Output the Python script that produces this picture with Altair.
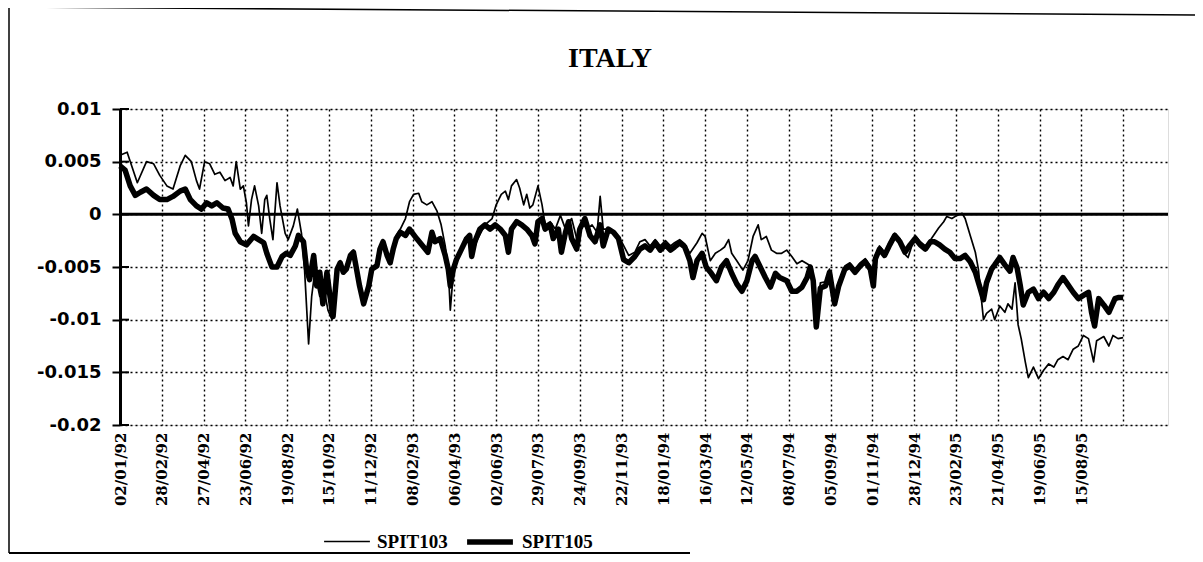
import altair as alt
import pandas as pd

# ---------------- data ----------------
# x = trading-day index (41 trading days between labelled gridlines)
x_tick_values = [0, 41, 82, 123, 164, 205, 246, 287, 328, 369, 410, 451, 492,
                 533, 574, 615, 656, 697, 738, 779, 820, 861, 902, 943, 984]
x_tick_labels = ['02/01/92', '28/02/92', '27/04/92', '23/06/92', '19/08/92', '15/10/92',
                 '11/12/92', '08/02/93', '06/04/93', '02/06/93', '29/07/93', '24/09/93',
                 '22/11/93', '18/01/94', '16/03/94', '12/05/94', '08/07/94', '05/09/94',
                 '01/11/94', '28/12/94', '23/02/95', '21/04/95', '19/06/95', '15/08/95', '']
x_domain = [0, 1028]

y_tick_values = [-0.02, -0.015, -0.01, -0.005, 0, 0.005, 0.01]
y_tick_labels = ['-0.02', '-0.015', '-0.01', '-0.005', '0', '0.005', '0.01']
y_domain = [-0.02, 0.01]

chart_title = 'ITALY'
series_names = ['SPIT103', 'SPIT105']

spit105_idx = [0, 5, 10, 15, 20, 26, 33, 39, 46, 52, 59, 64, 69, 75, 80, 85, 90, 95, 101, 106,
               110, 113, 118, 124, 131, 136, 141, 144, 149, 154, 159, 163, 167, 172, 175, 180,
               183, 186, 190, 193, 196, 199, 203, 206, 209, 213, 216, 219, 222, 226, 229, 232,
               235, 239, 244, 247, 252, 255, 258, 262, 265, 268, 271, 275, 280, 284, 291, 297,
               302, 306, 309, 314, 319, 322, 324, 327, 330, 335, 340, 343, 345, 348, 353, 358,
               363, 368, 373, 378, 381, 384, 389, 394, 399, 404, 407, 410, 414, 417, 422, 425,
               430, 433, 437, 440, 443, 448, 451, 456, 461, 466, 471, 474, 479, 484, 489, 494,
               499, 505, 510, 515, 520, 525, 530, 535, 540, 544, 549, 554, 559, 562, 566, 571,
               575, 580, 585, 590, 595, 600, 605, 610, 615, 620, 623, 628, 633, 638, 643, 647,
               654, 659, 664, 669, 674, 677, 680, 683, 687, 692, 696, 701, 705, 711, 716, 721,
               726, 731, 736, 739, 741, 745, 750, 755, 760, 765, 770, 775, 780, 785, 790, 795,
               799, 804, 809, 814, 819, 824, 829, 834, 839, 844, 847, 850, 855, 858, 863, 868,
               873, 876, 880, 883, 886, 891, 896, 901, 906, 911, 916, 920, 925, 930, 935, 940,
               945, 950, 953, 956, 960, 965, 970, 976, 979, 984]
spit105_val = [0.0046, 0.0042, 0.0027, 0.0018, 0.0021, 0.0024, 0.0018, 0.0014, 0.0014, 0.0017,
               0.0022, 0.0024, 0.0014, 0.0008, 0.0005, 0.0011, 0.0008, 0.0011, 0.0006, 0.0005,
               -0.0005, -0.0018, -0.0026, -0.0029, -0.0021, -0.0024, -0.0027, -0.0037, -0.0050, -0.0050,
               -0.0040, -0.0037, -0.0039, -0.0030, -0.0020, -0.0026, -0.0052, -0.0062, -0.0039, -0.0068,
               -0.0055, -0.0085, -0.0055, -0.0078, -0.0097, -0.0052, -0.0046, -0.0055, -0.0052, -0.0039,
               -0.0036, -0.0052, -0.0068, -0.0085, -0.0068, -0.0052, -0.0049, -0.0033, -0.0026, -0.0039,
               -0.0046, -0.0033, -0.0023, -0.0017, -0.0020, -0.0014, -0.0023, -0.0030, -0.0036, -0.0017,
               -0.0026, -0.0023, -0.0039, -0.0052, -0.0068, -0.0052, -0.0043, -0.0033, -0.0023, -0.0020,
               -0.0040, -0.0026, -0.0014, -0.0010, -0.0014, -0.0010, -0.0014, -0.0020, -0.0036, -0.0014,
               -0.0007, -0.0010, -0.0014, -0.0020, -0.0028, -0.0007, -0.0004, -0.0014, -0.0010, -0.0023,
               -0.0014, -0.0036, -0.0017, -0.0007, -0.0023, -0.0033, -0.0014, -0.0004, -0.0020, -0.0026,
               -0.0010, -0.0030, -0.0014, -0.0017, -0.0023, -0.0043, -0.0046, -0.0040, -0.0033, -0.0030,
               -0.0034, -0.0027, -0.0034, -0.0029, -0.0034, -0.0031, -0.0027, -0.0031, -0.0044, -0.0060,
               -0.0044, -0.0037, -0.0050, -0.0056, -0.0063, -0.0050, -0.0044, -0.0056, -0.0066, -0.0073,
               -0.0063, -0.0044, -0.0040, -0.0050, -0.0060, -0.0069, -0.0056, -0.0060, -0.0063, -0.0073,
               -0.0073, -0.0069, -0.0060, -0.0050, -0.0063, -0.0107, -0.0070, -0.0068, -0.0055, -0.0085,
               -0.0068, -0.0052, -0.0049, -0.0055, -0.0049, -0.0045, -0.0052, -0.0068, -0.0042, -0.0033,
               -0.0039, -0.0029, -0.0020, -0.0026, -0.0036, -0.0029, -0.0023, -0.0029, -0.0033, -0.0026,
               -0.0026, -0.0029, -0.0033, -0.0036, -0.0042, -0.0042, -0.0039, -0.0045, -0.0055, -0.0071,
               -0.0081, -0.0065, -0.0052, -0.0048, -0.0041, -0.0048, -0.0054, -0.0041, -0.0051, -0.0067,
               -0.0086, -0.0074, -0.0071, -0.0080, -0.0074, -0.0080, -0.0074, -0.0067, -0.0060, -0.0067,
               -0.0074, -0.0080, -0.0077, -0.0074, -0.0093, -0.0106, -0.0080, -0.0086, -0.0093, -0.0080,
               -0.0079, -0.0079]

spit103_idx = [0, 7, 17, 26, 33, 39, 46, 52, 59, 64, 70, 75, 78, 83, 88, 93, 98, 103, 108, 111,
               114, 118, 121, 124, 126, 129, 132, 136, 139, 142, 144, 147, 150, 154, 157, 162, 165,
               170, 174, 178, 181, 185, 188, 191, 196, 199, 204, 208, 213, 216, 219, 222, 226, 229,
               232, 235, 239, 244, 247, 252, 255, 258, 262, 265, 268, 271, 275, 280, 284, 288, 293,
               296, 301, 306, 311, 315, 319, 322, 324, 327, 330, 337, 343, 345, 351, 358, 365, 369,
               374, 378, 381, 384, 389, 392, 396, 399, 402, 405, 410, 414, 417, 422, 427, 432, 437,
               443, 448, 453, 458, 463, 468, 471, 474, 479, 486, 492, 499, 505, 510, 515, 520, 525,
               530, 535, 540, 544, 549, 554, 559, 566, 571, 574, 579, 584, 589, 593, 597, 600, 605,
               611, 616, 621, 626, 629, 634, 639, 644, 649, 654, 659, 664, 669, 674, 679, 683, 687,
               692, 696, 701, 705, 711, 716, 721, 726, 731, 736, 739, 741, 745, 750, 755, 760, 765,
               770, 773, 780, 785, 790, 796, 803, 808, 811, 816, 821, 826, 829, 834, 839, 842, 845,
               847, 850, 855, 858, 863, 868, 871, 875, 878, 881, 884, 888, 891, 896, 901, 906, 911,
               916, 920, 925, 930, 935, 940, 945, 950, 953, 955, 958, 965, 970, 974, 979, 984]
spit103_val = [0.0056, 0.0059, 0.0030, 0.0050, 0.0048, 0.0037, 0.0027, 0.0024, 0.0046, 0.0056,
               0.0050, 0.0032, 0.0024, 0.0050, 0.0048, 0.0038, 0.0040, 0.0032, 0.0035, 0.0027,
               0.0050, 0.0024, 0.0027, 0.0011, -0.0011, 0.0014, 0.0027, 0.0008, -0.0018, 0.0014,
               0.0018, -0.0005, -0.0024, 0.0030, 0.0008, -0.0018, -0.0024, -0.0011, 0.0005, -0.0018,
               -0.0052, -0.0123, -0.0078, -0.0055, -0.0078, -0.0065, -0.0091, -0.0100, -0.0055, -0.0044,
               -0.0053, -0.0050, -0.0037, -0.0034, -0.0050, -0.0066, -0.0082, -0.0066, -0.0050, -0.0047,
               -0.0031, -0.0024, -0.0037, -0.0042, -0.0030, -0.0020, -0.0014, -0.0004, 0.0012, 0.0019,
               0.0020, 0.0012, 0.0009, 0.0012, 0.0003, -0.0010, -0.0030, -0.0052, -0.0091, -0.0055,
               -0.0046, -0.0030, -0.0020, -0.0039, -0.0023, -0.0010, -0.0004, 0.0009, 0.0019, 0.0022,
               0.0014, 0.0027, 0.0033, 0.0025, 0.0009, 0.0019, 0.0006, 0.0009, 0.0027, 0.0009,
               -0.0010, -0.0007, -0.0014, -0.0001, -0.0014, -0.0004, -0.0023, -0.0007, -0.0014, -0.0010,
               -0.0017, 0.0017, -0.0014, -0.0014, -0.0017, -0.0026, -0.0039, -0.0036, -0.0026, -0.0024,
               -0.0030, -0.0024, -0.0030, -0.0025, -0.0030, -0.0027, -0.0024, -0.0028, -0.0037, -0.0027,
               -0.0018, -0.0021, -0.0044, -0.0037, -0.0034, -0.0031, -0.0024, -0.0037, -0.0044, -0.0053,
               -0.0044, -0.0021, -0.0010, -0.0024, -0.0021, -0.0034, -0.0037, -0.0037, -0.0034, -0.0040,
               -0.0047, -0.0044, -0.0047, -0.0050, -0.0100, -0.0065, -0.0064, -0.0052, -0.0080, -0.0064,
               -0.0049, -0.0046, -0.0052, -0.0046, -0.0042, -0.0049, -0.0064, -0.0039, -0.0030, -0.0036,
               -0.0026, -0.0018, -0.0023, -0.0038, -0.0041, -0.0020, -0.0026, -0.0030, -0.0023, -0.0013,
               -0.0007, -0.0002, -0.0004, -0.0001, 0.0001, -0.0004, -0.0020, -0.0036, -0.0052, -0.0081,
               -0.0100, -0.0094, -0.0090, -0.0100, -0.0087, -0.0093, -0.0085, -0.0090, -0.0065, -0.0105,
               -0.0118, -0.0140, -0.0155, -0.0145, -0.0156, -0.0148, -0.0142, -0.0145, -0.0138, -0.0135,
               -0.0138, -0.0128, -0.0125, -0.0115, -0.0118, -0.0131, -0.0140, -0.0120, -0.0116, -0.0125,
               -0.0115, -0.0118, -0.0117]

df = pd.concat([
    pd.DataFrame({'idx': spit103_idx, 'value': spit103_val, 'series': series_names[0]}),
    pd.DataFrame({'idx': spit105_idx, 'value': spit105_val, 'series': series_names[1]}),
], ignore_index=True)

# ---------------- chart ----------------
x_label_expr = "[" + ",".join("'%s'" % s for s in x_tick_labels) + "][indexof([" + \
    ",".join(str(v) for v in x_tick_values) + "], datum.value)]"
y_label_expr = "[" + ",".join("'%s'" % s for s in y_tick_labels) + "][indexof([" + \
    ",".join(repr(v) for v in y_tick_values) + "], datum.value)]"

x_enc = alt.X('idx:Q',
              scale=alt.Scale(domain=x_domain, nice=False, zero=False),
              axis=alt.Axis(values=x_tick_values, labelExpr=x_label_expr, title=None,
                            grid=True, gridColor='black', gridDash=[2, 3], gridWidth=1.4,
                            ticks=False, domain=False, labelAngle=-90,
                            labelFont='DejaVu Serif', labelFontWeight='bold', labelFontSize=15,
                            labelColor='black', labelPadding=7, labelFlush=False,
                            labelOverlap=False, labelBound=False))
y_enc = alt.Y('value:Q',
              scale=alt.Scale(domain=y_domain, nice=False, zero=False),
              axis=alt.Axis(values=y_tick_values, labelExpr=y_label_expr, title=None,
                            grid=True, gridColor='black', gridDash=[2, 3], gridWidth=1.4,
                            domainColor='black', domainWidth=3, tickColor='black', tickWidth=2,
                            tickSize=8, labelFont='DejaVu Sans', labelFontWeight='bold',
                            labelFontSize=18, labelColor='black', labelPadding=11,
                            labelFlush=False, labelOverlap=False))

lines = alt.Chart(df).mark_line(color='black', strokeJoin='round').encode(
    x=x_enc, y=y_enc,
    strokeWidth=alt.StrokeWidth('series:N',
                                scale=alt.Scale(domain=series_names, range=[1.7, 5.5]),
                                legend=alt.Legend(title=None, orient='none', legendX=203,
                                                  legendY=407, direction='horizontal',
                                                  symbolType='stroke', symbolSize=2100,
                                                  symbolStrokeColor='black',
                                                  labelFont='Liberation Serif',
                                                  labelFontWeight='bold', labelFontSize=19,
                                                  labelColor='black', labelOffset=6,
                                                  columnPadding=8)))

zero_line = alt.Chart(pd.DataFrame({'value': [0.0]})).mark_rule(
    color='black', strokeWidth=3).encode(y='value:Q')

inner_ticks = alt.Chart(pd.DataFrame({'value': y_tick_values})).mark_rule(
    color='black', strokeWidth=2).encode(
    y='value:Q', x=alt.value(0), x2=alt.value(9))

title_text = alt.Chart(pd.DataFrame({'t': [chart_title]})).mark_text(
    font='Liberation Serif', fontSize=28, fontWeight='bold', color='black',
    align='center', baseline='alphabetic').encode(
    text='t:N', x=alt.value(490), y=alt.value(-42))

frame_df = pd.DataFrame({'k': [0]})
frame_top = alt.Chart(frame_df).mark_rule(color='black', strokeWidth=1.5).encode(
    x=alt.value(-111), y=alt.value(-102), x2=alt.value(1075), y2=alt.value(-94))
frame_left = alt.Chart(frame_df).mark_rule(color='black', strokeWidth=1.5).encode(
    x=alt.value(-111), y=alt.value(-102), y2=alt.value(444))
frame_bottom = alt.Chart(frame_df).mark_rule(color='black', strokeWidth=2).encode(
    x=alt.value(-111), x2=alt.value(570), y=alt.value(444))

chart = alt.layer(lines, zero_line, inner_ticks, title_text,
                  frame_top, frame_left, frame_bottom).properties(
    width=1048, height=316,
    padding={'left': 112, 'top': 101, 'right': 27, 'bottom': 129},
    autosize=alt.AutoSizeParams(type='none'),
).configure_view(stroke='black', strokeWidth=2).configure(background='white')

chart.save("out.html", embed_options={"renderer": "svg", "actions": False})
